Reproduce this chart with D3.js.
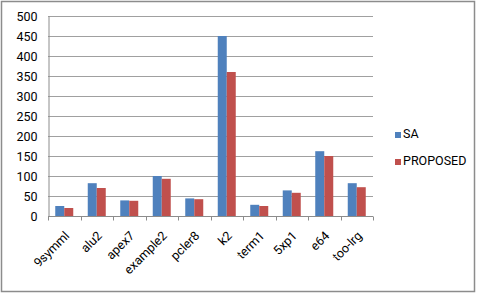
<!DOCTYPE html>
<html><head><meta charset="utf-8">
<script src="https://cdn.jsdelivr.net/npm/d3@7"></script>
<style>body{margin:0;background:#fff}text{font-family:Roboto,"Liberation Sans",Arial,sans-serif}</style>
</head><body><svg id="c" width="477" height="294"></svg>
<script>
const categories = ["9symml","alu2","apex7","example2","pcler8","k2","term1","5xp1","e64","too-lrg"];
const seriesNames = ["SA","PROPOSED"];
const saValues = [25,82,39,100,44,450,28,64,162,82];
const proposedValues = [20,70,38,93,42,360,25,58,150,72];
const yTicks = [0,50,100,150,200,250,300,350,400,450,500];
const colors = ["#4F81BD","#C0504D"];

(function(){
const svg = d3.select("#c");
svg.append("rect").attr("x",1.5).attr("y",1.5).attr("width",473).attr("height",290)
  .attr("fill","#fff").attr("stroke","#8c8c8c").attr("stroke-width",1.5);

const pl=48, pr=373, pt=16, pb=216;
const x = d3.scaleBand().domain(categories).range([pl,pr]);
const y = d3.scaleLinear().domain([0,500]).range([pb,pt]);
const xs = d3.scaleBand().domain(seriesNames).range([0,18]);

svg.append("g").selectAll("line").data(yTicks.filter(d=>d>0)).join("line")
  .attr("x1",pl).attr("x2",pr).attr("y1",d=>Math.round(y(d))+0.5).attr("y2",d=>Math.round(y(d))+0.5)
  .attr("stroke","#a0a0a0").attr("stroke-width",1);

const data = [saValues, proposedValues];
seriesNames.forEach((s,si)=>{
  svg.append("g").selectAll("rect").data(categories).join("rect")
    .attr("x",(c)=>x(c)+x.bandwidth()/2-9+xs(s))
    .attr("width",xs.bandwidth())
    .attr("y",(c,i)=>y(data[si][i]))
    .attr("height",(c,i)=>y(0)-y(data[si][i]))
    .attr("fill",colors[si]);
});

const ya = svg.append("g").attr("transform",`translate(${pl+0.5},0)`)
  .call(d3.axisLeft(y).tickValues(yTicks).tickSize(0).tickPadding(11));
ya.select(".domain").attr("stroke","#8c8c8c");
ya.selectAll("text").attr("font-size",12.5).attr("fill","#000");

const xa = svg.append("g").attr("transform",`translate(0,${pb+0.5})`);
xa.append("line").attr("x1",pl).attr("x2",pr).attr("stroke","#8c8c8c");
xa.selectAll("line.t").data(d3.range(categories.length+1)).join("line").attr("class","t")
  .attr("x1",i=>Math.round(pl+i*x.step())+0.5).attr("x2",i=>Math.round(pl+i*x.step())+0.5)
  .attr("y1",0).attr("y2",4).attr("stroke","#8c8c8c");
xa.selectAll("text").data(categories).join("text")
  .attr("transform",c=>`translate(${x(c)+x.bandwidth()/2+6},${20}) rotate(-45)`)
  .attr("text-anchor","end").attr("font-size",12.5).attr("fill","#000").text(c=>c);

const lg = svg.append("g");
seriesNames.forEach((s,i)=>{
  const ly = 138 + i*27;
  lg.append("rect").attr("x",395).attr("y",ly-6).attr("width",6).attr("height",6).attr("fill",colors[i]);
  lg.append("text").attr("x",403).attr("y",ly).attr("font-size",12.5).attr("fill","#000").text(s);
});
})();
</script></body></html>
